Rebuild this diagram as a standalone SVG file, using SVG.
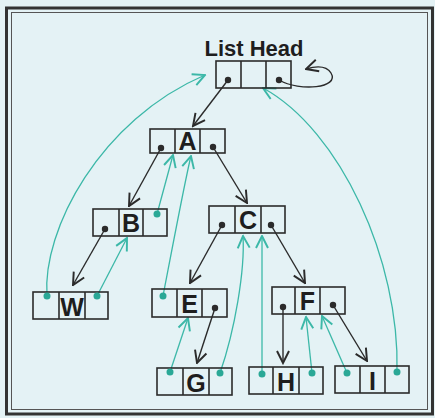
<svg xmlns="http://www.w3.org/2000/svg" width="435" height="418" viewBox="0 0 435 418">
<defs>
<marker id="ab" markerUnits="userSpaceOnUse" markerWidth="15" markerHeight="15" viewBox="0 0 10 10" refX="9" refY="5" orient="auto">
<path d="M1,1 L9,5 L1,9" fill="none" stroke="#2b2b2b" stroke-width="1.3"/>
</marker>
<marker id="ac" markerUnits="userSpaceOnUse" markerWidth="15" markerHeight="15" viewBox="0 0 10 10" refX="9" refY="5" orient="auto">
<path d="M1,1 L9,5 L1,9" fill="none" stroke="#3cb8a8" stroke-width="1.3"/>
</marker>
</defs>
<style>
.box{fill:none;stroke:#2b2b2b;stroke-width:1.6}
.lbl{font-family:"Liberation Sans",Arial,sans-serif;font-weight:bold;font-size:25px;fill:#1e1e1e;text-anchor:middle}
.hd{font-size:22px}
.bd{fill:#2b2b2b}
.cd{fill:#2aa896}
.edge{fill:none;stroke:#2b2b2b;stroke-width:1.4;marker-end:url(#ab)}
.thr{fill:none;stroke:#3cb8a8;stroke-width:1.3;marker-end:url(#ac)}
</style>
<rect x="0" y="0" width="435" height="418" fill="#e4f2f5"/>
<rect x="6.5" y="8" width="426" height="406" fill="none" stroke="#333" stroke-width="3"/>
<rect x="11.5" y="12.5" width="416" height="397" fill="none" stroke="#555" stroke-width="1"/>

<g id="connectors">
<path class="edge" d="M228,80 L193,126"/>
<path class="edge" d="M161,148 L129,206"/>
<path class="edge" d="M213,147 L247,203"/>
<path class="edge" d="M105,229 L73,285"/>
<path class="edge" d="M222,225 L190,283"/>
<path class="edge" d="M271,225 L305,283"/>
<path class="edge" d="M215,308 L197,363"/>
<path class="edge" d="M283,307 L283,363"/>
<path class="edge" d="M333,305 L367,361"/>
<path class="edge" d="M279,80 C300,92 340,88 331,73 C326,65 316,66 306,69"/>
<path class="thr" d="M47,296 C42,230 100,120 205,75"/>
<path class="thr" d="M97,296 L127,238"/>
<path class="thr" d="M157,214 L173,155"/>
<path class="thr" d="M163,296 C170,260 185,180 191,156"/>
<path class="thr" d="M170,372 L188,318"/>
<path class="thr" d="M220,373 C235,330 245,270 243,236"/>
<path class="thr" d="M262,374 L262,236"/>
<path class="thr" d="M312,373 L306,317"/>
<path class="thr" d="M347,373 L322,316"/>
<path class="thr" d="M397,372 C400,260 340,130 263,88"/>
</g>

<g id="head">
<text class="lbl hd" x="254" y="56">List Head</text>
<rect class="box" x="216" y="61" width="75" height="27"/>
<line class="box" x1="241" y1="61" x2="241" y2="88"/>
<line class="box" x1="266" y1="61" x2="266" y2="88"/>
<circle class="bd" cx="228" cy="80" r="3.2"/>
<circle class="bd" cx="279" cy="80" r="3.2"/>
</g>

<g id="nodeA">
<rect class="box" x="150" y="129" width="75" height="24"/>
<line class="box" x1="175" y1="129" x2="175" y2="153"/>
<line class="box" x1="200" y1="129" x2="200" y2="153"/>
<text class="lbl" x="187.5" y="150">A</text>
<circle class="bd" cx="161" cy="148" r="3.2"/>
<circle class="bd" cx="213" cy="147" r="3.2"/>
</g>

<g id="nodeB">
<rect class="box" x="93" y="209" width="74" height="27"/>
<line class="box" x1="119" y1="209" x2="119" y2="236"/>
<line class="box" x1="143" y1="209" x2="143" y2="236"/>
<text class="lbl" x="131" y="232">B</text>
<circle class="bd" cx="105" cy="229" r="3.2"/>
<circle class="cd" cx="157" cy="214" r="3.5"/>
</g>

<g id="nodeC">
<rect class="box" x="209" y="206" width="76" height="27"/>
<line class="box" x1="235" y1="206" x2="235" y2="233"/>
<line class="box" x1="261" y1="206" x2="261" y2="233"/>
<text class="lbl" x="248" y="229">C</text>
<circle class="bd" cx="222" cy="225" r="3.2"/>
<circle class="bd" cx="271" cy="225" r="3.2"/>
</g>

<g id="nodeW">
<rect class="box" x="33" y="292" width="75" height="27"/>
<line class="box" x1="59" y1="292" x2="59" y2="319"/>
<line class="box" x1="85" y1="292" x2="85" y2="319"/>
<text class="lbl" x="72" y="316">W</text>
<circle class="cd" cx="47" cy="296" r="3.5"/>
<circle class="cd" cx="97" cy="296" r="3.5"/>
</g>

<g id="nodeE">
<rect class="box" x="152" y="289" width="75" height="28"/>
<line class="box" x1="177" y1="289" x2="177" y2="317"/>
<line class="box" x1="202" y1="289" x2="202" y2="317"/>
<text class="lbl" x="189.5" y="313">E</text>
<circle class="cd" cx="163" cy="296" r="3.5"/>
<circle class="bd" cx="215" cy="308" r="3.2"/>
</g>

<g id="nodeF">
<rect class="box" x="272" y="287" width="73" height="27"/>
<line class="box" x1="295" y1="287" x2="295" y2="314"/>
<line class="box" x1="320" y1="287" x2="320" y2="314"/>
<text class="lbl" x="307.5" y="310">F</text>
<circle class="bd" cx="283" cy="307" r="3.2"/>
<circle class="bd" cx="333" cy="305" r="3.2"/>
</g>

<g id="nodeG">
<rect class="box" x="157" y="368" width="75" height="27"/>
<line class="box" x1="183" y1="368" x2="183" y2="395"/>
<line class="box" x1="209" y1="368" x2="209" y2="395"/>
<text class="lbl" x="196" y="392">G</text>
<circle class="cd" cx="170" cy="372" r="3.5"/>
<circle class="cd" cx="220" cy="373" r="3.5"/>
</g>

<g id="nodeH">
<rect class="box" x="249" y="367" width="74" height="27"/>
<line class="box" x1="273" y1="367" x2="273" y2="394"/>
<line class="box" x1="299" y1="367" x2="299" y2="394"/>
<text class="lbl" x="286" y="391">H</text>
<circle class="cd" cx="262" cy="374" r="3.5"/>
<circle class="cd" cx="312" cy="373" r="3.5"/>
</g>

<g id="nodeI">
<rect class="box" x="335" y="366" width="74" height="27"/>
<line class="box" x1="360" y1="366" x2="360" y2="393"/>
<line class="box" x1="385" y1="366" x2="385" y2="393"/>
<text class="lbl" x="372.5" y="390">I</text>
<circle class="cd" cx="347" cy="373" r="3.5"/>
<circle class="cd" cx="397" cy="372" r="3.5"/>
</g>
</svg>
